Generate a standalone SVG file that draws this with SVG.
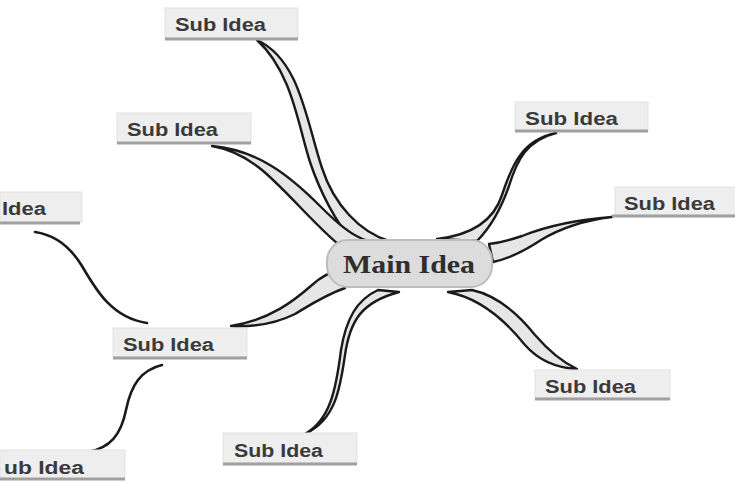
<svg xmlns="http://www.w3.org/2000/svg" width="735" height="483" viewBox="0 0 735 483">
<style>
.bg{fill:#ffffff}
.conn{fill:#e6e6e6;stroke:#1a1a1a;stroke-width:2.4;stroke-linejoin:round}
.line{fill:none;stroke:#1a1a1a;stroke-width:2.6;stroke-linecap:round}
.box{fill:#eeeeee;stroke:#e2e2e2;stroke-width:1}
.ul{stroke:#a0a0a0;stroke-width:3}
.sub{font-family:"Liberation Sans",Arial,sans-serif;font-weight:bold;font-size:18px;fill:#3a3a3a}
.main{fill:#dcdcdc;stroke:#bdbdbd;stroke-width:2}
.maintext{font-family:"Liberation Serif","Times New Roman",serif;font-weight:bold;font-size:26px;fill:#2e2e2e}
</style>
<rect class="bg" x="0" y="0" width="735" height="483"/>
<g id="connectors">
<path class="conn" d="M257,40 C300,60 306,120 322,168 C334,205 360,232 389,241 L352,241 C336,222 320,192 310,162 C298,125 292,72 257,40 Z"/>
<path class="conn" d="M212,146 C258,150 290,176 320,206 C338,224 352,236 368,241 L338,244 C312,222 288,192 262,170 C246,157 230,149 212,146 Z"/>
<path class="conn" d="M556,133 C522,140 512,165 502,195 C494,220 472,235 437,239 L477,241 C492,226 502,206 509,186 C517,160 527,140 556,133 Z"/>
<path class="conn" d="M612,217 C572,220 542,228 522,236 C507,241 497,243 489,244 L493,262 C511,258 526,250 541,240 C561,228 586,220 612,217 Z"/>
<path class="conn" d="M448,292 C480,298 505,320 525,345 C540,362 558,368 577,369 C560,361 548,350 535,335 C515,310 495,295 472,290 Z"/>
<path class="conn" d="M305,434 C335,420 340,390 345,355 C350,320 362,302 399,292 L378,290 C356,300 346,320 341,350 C336,390 330,420 305,434 Z"/>
<path class="conn" d="M231,326 C270,320 295,300 312,285 C322,276 330,272 338,271 L345,288 C325,295 310,305 295,314 C275,324 252,327 231,326 Z"/>
<path class="line" d="M147,323 C112,318 96,290 82,266 C71,248 56,235 35,232"/>
<path class="line" d="M162,365 C141,370 131,385 126,410 C121,435 110,448 88,452"/>
</g>
<g id="main-idea">
<rect class="main" x="327" y="240" width="165" height="47" rx="21"/>
<text class="maintext" x="343" y="273" textLength="132" lengthAdjust="spacingAndGlyphs">Main Idea</text>
</g>
<g id="sub-1">
<rect class="box" x="165" y="8" width="133" height="30"/>
<line class="ul" x1="165" y1="39" x2="298" y2="39"/>
<text class="sub" x="175" y="31" textLength="91" lengthAdjust="spacingAndGlyphs">Sub Idea</text>
</g>
<g id="sub-2">
<rect class="box" x="117" y="113" width="134" height="30"/>
<line class="ul" x1="117" y1="143" x2="251" y2="143"/>
<text class="sub" x="127" y="136" textLength="91" lengthAdjust="spacingAndGlyphs">Sub Idea</text>
</g>
<g id="sub-3">
<rect class="box" x="0" y="192" width="82" height="30"/>
<line class="ul" x1="0" y1="223" x2="80" y2="223"/>
<text class="sub" x="2" y="215" textLength="44" lengthAdjust="spacingAndGlyphs">Idea</text>
</g>
<g id="sub-4">
<rect class="box" x="113" y="328" width="134" height="29"/>
<line class="ul" x1="113" y1="358" x2="247" y2="358"/>
<text class="sub" x="123" y="351" textLength="91" lengthAdjust="spacingAndGlyphs">Sub Idea</text>
</g>
<g id="sub-5">
<rect class="box" x="0" y="450" width="125" height="29"/>
<line class="ul" x1="0" y1="479" x2="125" y2="479"/>
<text class="sub" x="4" y="474" textLength="80" lengthAdjust="spacingAndGlyphs">ub Idea</text>
</g>
<g id="sub-6">
<rect class="box" x="223" y="433" width="134" height="30"/>
<line class="ul" x1="223" y1="464" x2="357" y2="464"/>
<text class="sub" x="234" y="457" textLength="89" lengthAdjust="spacingAndGlyphs">Sub Idea</text>
</g>
<g id="sub-7">
<rect class="box" x="535" y="370" width="135" height="28"/>
<line class="ul" x1="535" y1="399" x2="670" y2="399"/>
<text class="sub" x="545" y="393" textLength="91" lengthAdjust="spacingAndGlyphs">Sub Idea</text>
</g>
<g id="sub-8">
<rect class="box" x="615" y="187" width="125" height="28"/>
<line class="ul" x1="612" y1="216" x2="735" y2="216"/>
<text class="sub" x="624" y="210" textLength="91" lengthAdjust="spacingAndGlyphs">Sub Idea</text>
</g>
<g id="sub-9">
<rect class="box" x="515" y="102" width="133" height="29"/>
<line class="ul" x1="515" y1="131" x2="648" y2="131"/>
<text class="sub" x="525" y="125" textLength="93" lengthAdjust="spacingAndGlyphs">Sub Idea</text>
</g>
</svg>
